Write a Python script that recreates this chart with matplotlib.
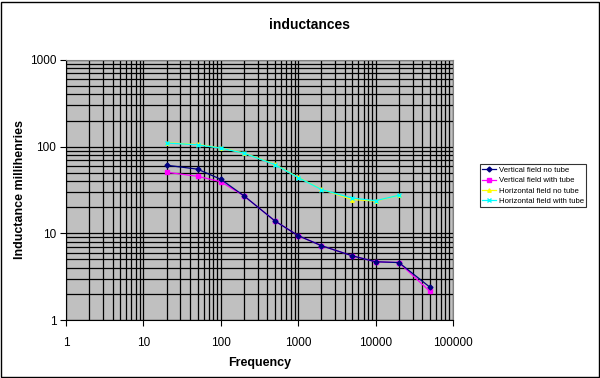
import matplotlib
matplotlib.use("Agg")
import matplotlib.pyplot as plt
from matplotlib.patches import Rectangle

plt.rcParams['font.family'] = ['Liberation Sans', 'DejaVu Sans']

freq = [20, 50, 100, 200, 500, 1000, 2000, 5000, 10000, 20000, 50000]
vert_no_tube = [61, 55, 42, 27, 13.9, 9.4, 7.2, 5.5, 4.7, 4.6, 2.4]
vert_with_tube = [50.6, 45.5, 39.4, 27, 13.9, 9.4, 7.2, 5.5, 4.7, 4.6, 2.15]
freq_h = [20, 50, 100, 200, 500, 1000, 2000, 5000, 10000, 20000]
horiz_no_tube = [111, 106, 96.5, 84.5, 62.5, 44.3, 32.2, 24.5, 23.6, 27.5]
horiz_with_tube = [110, 105, 96, 84, 62, 44, 32, 25.5, 23.8, 27.5]

labels = ["Vertical field no tube", "Vertical field with tube",
          "Horizontal field no tube", "Horizontal field with tube"]
xticks = [1, 10, 100, 1000, 10000, 100000]
xticklabels = ["1", "10", "100", "1000", "10000", "100000"]
yticks = [1, 10, 100, 1000]
yticklabels = ["1", "10", "100", "1000"]

fig = plt.figure(figsize=(6.0, 3.78), dpi=100)
ax = fig.add_axes([0.11, 0.1534, 0.645, 0.688])
ax.set_facecolor('#C0C0C0')
ax.set_xscale('log')
ax.set_yscale('log')
ax.set_xlim(1, 100000)
ax.set_ylim(1, 1000)

ax.plot(freq, vert_no_tube, color='#000080', marker='D', markersize=2.5, lw=0.9, label=labels[0], zorder=4)
ax.plot(freq, vert_with_tube, color='#FF00FF', marker='s', markersize=2.5, lw=0.9, label=labels[1], zorder=3)
ax.plot(freq_h, horiz_no_tube, color='#FFFF00', marker='^', markersize=2.5, lw=0.9, label=labels[2], zorder=3)
ax.plot(freq_h, horiz_with_tube, color='#00FFFF', marker='x', markersize=2.5, lw=0.9, label=labels[3], zorder=4)

ax.grid(True, which='both', color='black', lw=0.9)
ax.set_axisbelow(True)
ax.set_xticks(xticks)
ax.set_xticklabels(xticklabels)
ax.set_yticks(yticks)
ax.set_yticklabels(yticklabels)
ax.tick_params(axis='both', which='major', labelsize=8.5, length=4, direction='out', pad=8)
ax.tick_params(axis='both', which='minor', length=0)
ax.tick_params(axis='y', pad=3)
for s in ['top', 'right']:
    ax.spines[s].set_color('#808080')
for s in ['left', 'bottom']:
    ax.spines[s].set_color('black')

ax.set_xlabel('Frequency', fontsize=9, fontweight='bold', labelpad=6)
ax.set_ylabel('Inductance millihenries', fontsize=9, fontweight='bold', labelpad=3)
fig.text(0.515, 0.935, 'inductances', ha='center', va='center', fontsize=10, fontweight='bold')

leg = fig.legend(loc='upper left', bbox_to_anchor=(0.80, 0.565), fontsize=5.6, frameon=True,
                 fancybox=False, edgecolor='black', handlelength=1.8, borderpad=0.3,
                 labelspacing=0.35, handletextpad=0.3, borderaxespad=0)
leg.get_frame().set_linewidth(0.8)

fig.patches.append(Rectangle((0.002, 0.003), 0.996, 0.992, transform=fig.transFigure,
                             fill=False, edgecolor='black', lw=1))

fig.savefig('out.png', dpi=100)
